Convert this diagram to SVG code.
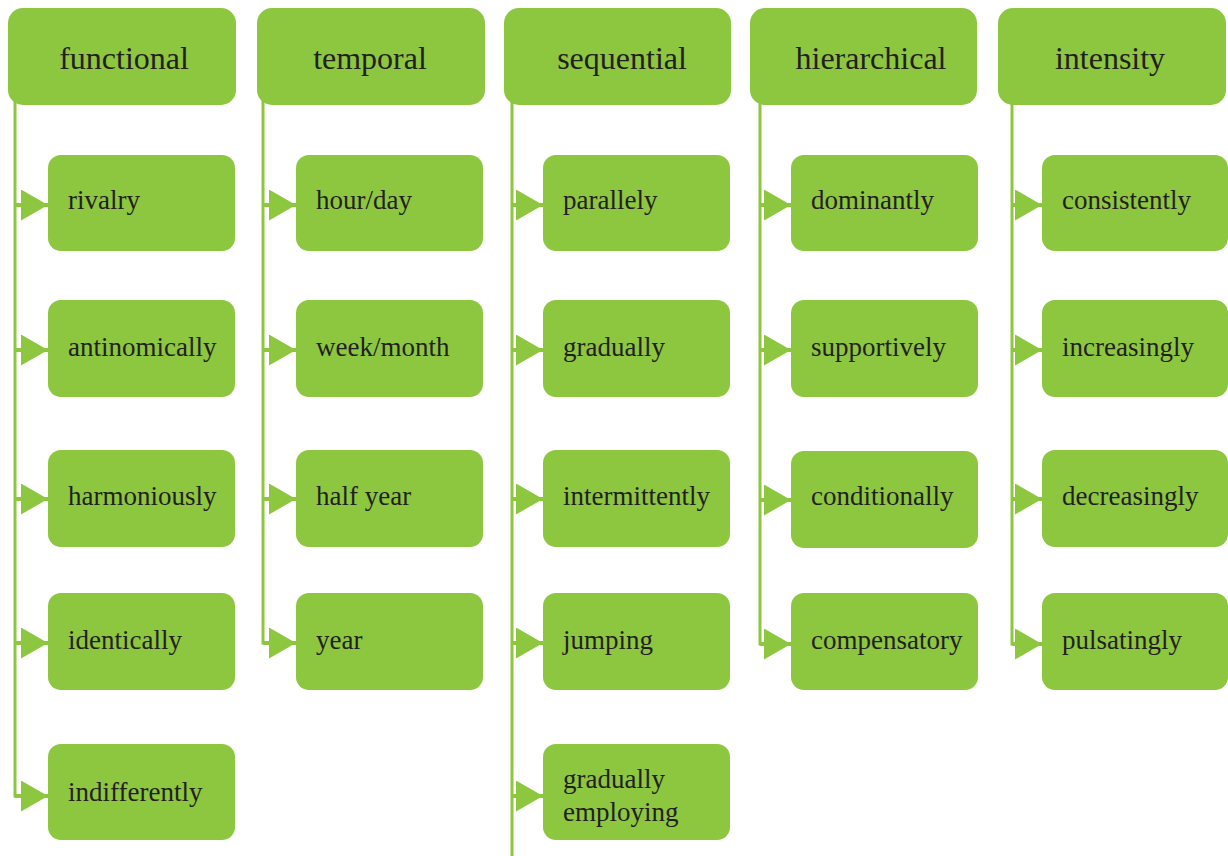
<svg xmlns="http://www.w3.org/2000/svg" width="1228" height="856" viewBox="0 0 1228 856">
<style>
.hdr{fill:#8DC63F}
.box{fill:#8DC63F}
.ht{font-family:"Liberation Serif","Times New Roman",serif;font-size:32px;fill:#231F20;text-anchor:middle}
.ct{font-family:"Liberation Serif","Times New Roman",serif;font-size:27px;fill:#231F20}
.vl{stroke:#8DC63F;stroke-width:3;fill:none}
.st{stroke:#8DC63F;stroke-width:4;fill:none}
</style>
<defs>
<marker id="arr" markerUnits="userSpaceOnUse" markerWidth="27" markerHeight="31" refX="27" refY="15.5" orient="auto">
<path d="M0,0 L27,15.5 L0,31 Z" fill="#8DC63F"/>
</marker>
</defs>
<rect width="1228" height="856" fill="#ffffff"/>
<g id="connectors">
<path class="vl" d="M15,100 V796 H22"/>
<path class="st" d="M15,205 H48" marker-end="url(#arr)"/>
<path class="st" d="M15,350 H48" marker-end="url(#arr)"/>
<path class="st" d="M15,499 H48" marker-end="url(#arr)"/>
<path class="st" d="M15,643 H48" marker-end="url(#arr)"/>
<path class="st" d="M15,796 H48" marker-end="url(#arr)"/>

<path class="vl" d="M263,100 V643 H270"/>
<path class="st" d="M263,205 H296" marker-end="url(#arr)"/>
<path class="st" d="M263,350 H296" marker-end="url(#arr)"/>
<path class="st" d="M263,499 H296" marker-end="url(#arr)"/>
<path class="st" d="M263,643 H296" marker-end="url(#arr)"/>

<path class="vl" d="M512,100 V856"/>
<path class="st" d="M512,205 H543" marker-end="url(#arr)"/>
<path class="st" d="M512,350 H543" marker-end="url(#arr)"/>
<path class="st" d="M512,499 H543" marker-end="url(#arr)"/>
<path class="st" d="M512,643 H543" marker-end="url(#arr)"/>
<path class="st" d="M512,796 H543" marker-end="url(#arr)"/>

<path class="vl" d="M760,100 V644 H767"/>
<path class="st" d="M760,205 H791" marker-end="url(#arr)"/>
<path class="st" d="M760,350 H791" marker-end="url(#arr)"/>
<path class="st" d="M760,500 H791" marker-end="url(#arr)"/>
<path class="st" d="M760,644 H791" marker-end="url(#arr)"/>

<path class="vl" d="M1012,100 V644 H1019"/>
<path class="st" d="M1012,205 H1042" marker-end="url(#arr)"/>
<path class="st" d="M1012,350 H1042" marker-end="url(#arr)"/>
<path class="st" d="M1012,499 H1042" marker-end="url(#arr)"/>
<path class="st" d="M1012,644 H1042" marker-end="url(#arr)"/>
</g>

<g id="h-functional"><rect class="hdr" x="8" y="8" width="228" height="97" rx="15"/><text class="ht" x="124" y="69">functional</text></g>
<g id="h-temporal"><rect class="hdr" x="257" y="8" width="228" height="97" rx="15"/><text class="ht" x="370" y="69">temporal</text></g>
<g id="h-sequential"><rect class="hdr" x="504" y="8" width="227" height="97" rx="15"/><text class="ht" x="622" y="69">sequential</text></g>
<g id="h-hierarchical"><rect class="hdr" x="750" y="8" width="227" height="97" rx="15"/><text class="ht" x="871" y="69">hierarchical</text></g>
<g id="h-intensity"><rect class="hdr" x="998" y="8" width="228" height="97" rx="15"/><text class="ht" x="1110" y="69">intensity</text></g>

<g id="n-rivalry"><rect class="box" x="48" y="155" width="187" height="96" rx="13"/><text class="ct" x="68" y="209">rivalry</text></g>
<g id="n-antinomically"><rect class="box" x="48" y="300" width="187" height="97" rx="13"/><text class="ct" x="68" y="356">antinomically</text></g>
<g id="n-harmoniously"><rect class="box" x="48" y="450" width="187" height="97" rx="13"/><text class="ct" x="68" y="505">harmoniously</text></g>
<g id="n-identically"><rect class="box" x="48" y="593" width="187" height="97" rx="13"/><text class="ct" x="68" y="649">identically</text></g>
<g id="n-indifferently"><rect class="box" x="48" y="744" width="187" height="96" rx="13"/><text class="ct" x="68" y="801">indifferently</text></g>

<g id="n-hourday"><rect class="box" x="296" y="155" width="187" height="96" rx="13"/><text class="ct" x="316" y="209">hour/day</text></g>
<g id="n-weekmonth"><rect class="box" x="296" y="300" width="187" height="97" rx="13"/><text class="ct" x="316" y="356">week/month</text></g>
<g id="n-halfyear"><rect class="box" x="296" y="450" width="187" height="97" rx="13"/><text class="ct" x="316" y="505">half year</text></g>
<g id="n-year"><rect class="box" x="296" y="593" width="187" height="97" rx="13"/><text class="ct" x="316" y="649">year</text></g>

<g id="n-parallely"><rect class="box" x="543" y="155" width="187" height="96" rx="13"/><text class="ct" x="563" y="209">parallely</text></g>
<g id="n-gradually"><rect class="box" x="543" y="300" width="187" height="97" rx="13"/><text class="ct" x="563" y="356">gradually</text></g>
<g id="n-intermittently"><rect class="box" x="543" y="450" width="187" height="97" rx="13"/><text class="ct" x="563" y="505">intermittently</text></g>
<g id="n-jumping"><rect class="box" x="543" y="593" width="187" height="97" rx="13"/><text class="ct" x="563" y="649">jumping</text></g>
<g id="n-gradually-employing"><rect class="box" x="543" y="744" width="187" height="96" rx="13"/><text class="ct" x="563" y="788">gradually</text><text class="ct" x="563" y="821">employing</text></g>

<g id="n-dominantly"><rect class="box" x="791" y="155" width="187" height="96" rx="13"/><text class="ct" x="811" y="209">dominantly</text></g>
<g id="n-supportively"><rect class="box" x="791" y="300" width="187" height="97" rx="13"/><text class="ct" x="811" y="356">supportively</text></g>
<g id="n-conditionally"><rect class="box" x="791" y="451" width="187" height="97" rx="13"/><text class="ct" x="811" y="505">conditionally</text></g>
<g id="n-compensatory"><rect class="box" x="791" y="593" width="187" height="97" rx="13"/><text class="ct" x="811" y="649">compensatory</text></g>

<g id="n-consistently"><rect class="box" x="1042" y="155" width="186" height="96" rx="13"/><text class="ct" x="1062" y="209">consistently</text></g>
<g id="n-increasingly"><rect class="box" x="1042" y="300" width="186" height="97" rx="13"/><text class="ct" x="1062" y="356">increasingly</text></g>
<g id="n-decreasingly"><rect class="box" x="1042" y="450" width="186" height="97" rx="13"/><text class="ct" x="1062" y="505">decreasingly</text></g>
<g id="n-pulsatingly"><rect class="box" x="1042" y="593" width="186" height="97" rx="13"/><text class="ct" x="1062" y="649">pulsatingly</text></g>
</svg>
